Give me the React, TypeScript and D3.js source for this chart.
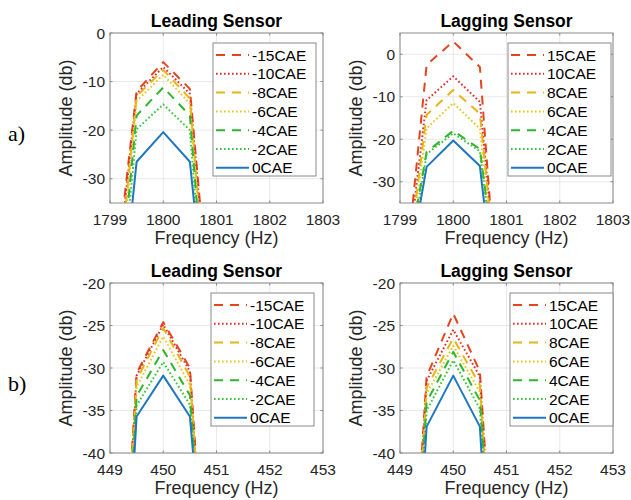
import React from 'react';
import * as d3 from 'd3';

// ---------- data ----------
const freqA = [1799, 1799.5, 1800, 1800.5, 1801];
const freqB = [449, 449.5, 450, 450.5, 451];
const xTicksA = [1799, 1800, 1801, 1802, 1803];
const xTicksB = [449, 450, 451, 452, 453];
const yTicksA = [-30, -20, -10, 0];
const yTicksB = [-40, -35, -30, -25, -20];

const leadLabels = ['-15CAE', '-10CAE', '-8CAE', '-6CAE', '-4CAE', '-2CAE', '0CAE'];
const lagLabels = ['15CAE', '10CAE', '8CAE', '6CAE', '4CAE', '2CAE', '0CAE'];

// amplitude (db) at each frequency, one row per load case (legend order)
const leadingA = [
  [-59.9, -12.0, -6.0, -11.5, -73.3],
  [-63.6, -12.5, -7.0, -12.5, -75.0],
  [-68.0, -13.0, -7.6, -13.5, -80.7],
  [-72.3, -14.0, -8.6, -14.5, -82.8],
  [-73.3, -17.0, -11.2, -17.0, -86.0],
  [-78.8, -19.8, -14.7, -20.0, -88.0],
  [-79.6, -26.5, -20.4, -26.5, -79.6],
];
const laggingA = [
  [-65.0, -2.5, 3.0, -3.0, -87.2],
  [-63.4, -10.8, -5.2, -11.2, -77.3],
  [-63.6, -14.3, -8.4, -14.0, -75.8],
  [-63.7, -17.4, -11.5, -17.5, -75.8],
  [-58.3, -23.0, -18.0, -22.3, -71.0],
  [-61.8, -23.5, -18.6, -22.8, -73.6],
  [-61.9, -26.5, -20.3, -26.3, -80.7],
];
const leadingB = [
  [-82.8, -30.6, -24.6, -30.0, -75.5],
  [-87.8, -30.9, -24.9, -30.4, -78.4],
  [-85.0, -31.4, -25.3, -31.0, -76.0],
  [-87.9, -32.2, -26.3, -32.0, -76.4],
  [-89.2, -33.3, -27.9, -33.2, -75.7],
  [-90.4, -34.4, -29.3, -34.3, -75.0],
  [-89.5, -35.7, -30.9, -35.7, -71.5],
];
const laggingB = [
  [-81.0, -31.0, -23.6, -30.4, -78.4],
  [-84.6, -31.5, -25.5, -31.0, -81.0],
  [-87.3, -32.3, -26.5, -32.0, -82.0],
  [-83.0, -33.0, -27.4, -32.8, -77.8],
  [-84.0, -34.0, -28.1, -33.8, -78.0],
  [-85.0, -35.0, -29.1, -34.8, -78.1],
  [-88.5, -36.9, -30.9, -36.9, -88.6],
];

// ---------- styles ----------
const seriesStyle = [
  { color: '#E3461E', dash: '9,7' },
  { color: '#E22A2A', dash: '1.6,2.4' },
  { color: '#E6B415', dash: '9,7' },
  { color: '#E8C61C', dash: '1.6,2.4' },
  { color: '#2DB52D', dash: '9,7' },
  { color: '#35C435', dash: '1.6,2.4' },
  { color: '#1F77C0', dash: '' },
];

const FONT = '"Liberation Sans", Arial, Helvetica, sans-serif';

type PanelProps = {
  id: string;
  x0: number; x1: number; y0: number; y1: number;
  xDomain: [number, number]; yDomain: [number, number];
  xTicks: number[]; yTicks: number[];
  freq: number[]; data: number[][]; labels: string[];
  title: string; legendRight: number;
};

function Panel(p: PanelProps) {
  const x = d3.scaleLinear().domain(p.xDomain).range([p.x0, p.x1]);
  const y = d3.scaleLinear().domain(p.yDomain).range([p.y1, p.y0]);
  const line = d3.line<number>().x((_, i) => x(p.freq[i])).y(d => y(d));
  const cx = (p.x0 + p.x1) / 2;
  const cy = (p.y0 + p.y1) / 2;
  const lw = 103, lh = 133;
  const lx = p.legendRight - lw;
  const ly = p.y0 + 10;
  const axisColor = '#8a8a8a';
  const tick = 2.5;
  return (
    <g>
      <defs>
        <clipPath id={p.id}>
          <rect x={p.x0} y={p.y0} width={p.x1 - p.x0} height={p.y1 - p.y0} />
        </clipPath>
      </defs>
      <rect x={p.x0} y={p.y0} width={p.x1 - p.x0} height={p.y1 - p.y0} fill="#fff" />
      {/* grid */}
      {p.xTicks.map(t => (
        <line key={'gx' + t} x1={x(t)} x2={x(t)} y1={p.y0} y2={p.y1} stroke="#e3e3e3" strokeWidth={0.8} />
      ))}
      {p.yTicks.map(t => (
        <line key={'gy' + t} x1={p.x0} x2={p.x1} y1={y(t)} y2={y(t)} stroke="#e3e3e3" strokeWidth={0.8} />
      ))}
      {/* series */}
      <g clipPath={`url(#${p.id})`}>
        {p.data.map((s, i) => (
          <path key={i} d={line(s) || ''} fill="none" stroke={seriesStyle[i].color}
            strokeWidth={2} strokeDasharray={seriesStyle[i].dash || undefined} strokeLinejoin="round" />
        ))}
      </g>
      {/* box */}
      <rect x={p.x0} y={p.y0} width={p.x1 - p.x0} height={p.y1 - p.y0} fill="none" stroke={axisColor} strokeWidth={1} />
      {p.xTicks.map(t => (
        <g key={'tx' + t}>
          <line x1={x(t)} x2={x(t)} y1={p.y1} y2={p.y1 - tick} stroke={axisColor} />
          <line x1={x(t)} x2={x(t)} y1={p.y0} y2={p.y0 + tick} stroke={axisColor} />
          <text x={x(t)} y={p.y1 + 21.5} textAnchor="middle" fontSize={15.5} fill="#262626" fontFamily={FONT}>{t}</text>
        </g>
      ))}
      {p.yTicks.map(t => (
        <g key={'ty' + t}>
          <line x1={p.x0} x2={p.x0 + tick} y1={y(t)} y2={y(t)} stroke={axisColor} />
          <line x1={p.x1} x2={p.x1 - tick} y1={y(t)} y2={y(t)} stroke={axisColor} />
          <text x={p.x0 - 5} y={y(t) + 5.5} textAnchor="end" fontSize={15.5} fill="#262626" fontFamily={FONT}>{t}</text>
        </g>
      ))}
      {/* labels */}
      <text x={cx} y={p.y0 - 6} textAnchor="middle" fontSize={17.5} fontWeight="bold" fill="#000" fontFamily={FONT}>{p.title}</text>
      <text x={cx} y={p.y1 + 41} textAnchor="middle" fontSize={18} fill="#262626" fontFamily={FONT}>Frequency (Hz)</text>
      <text transform={`translate(${p.x0 - 38},${cy}) rotate(-90)`} textAnchor="middle" fontSize={18} fill="#262626" fontFamily={FONT}>Amplitude (db)</text>
      {/* legend */}
      <rect x={lx} y={ly} width={lw} height={lh} fill="#fff" stroke={axisColor} strokeWidth={1} />
      {p.labels.map((lab, i) => {
        const ry = ly + 12 + i * 18.8;
        return (
          <g key={lab}>
            <line x1={lx + 3} x2={lx + 36} y1={ry} y2={ry} stroke={seriesStyle[i].color} strokeWidth={2}
              strokeDasharray={seriesStyle[i].dash || undefined} />
            <text x={lx + 39} y={ry + 5.5} fontSize={15.5} fill="#000" fontFamily={FONT}>{lab}</text>
          </g>
        );
      })}
    </g>
  );
}

export default function App() {
  return (
    <svg width={631} height={500} style={{ position: 'absolute', left: 0, top: 0, background: '#fff' }}>
      <rect width={631} height={500} fill="#fff" />
      <Panel id="c1" x0={110} x1={323} y0={33} y1={203} xDomain={[1799, 1803]} yDomain={[-35, 0]}
        xTicks={xTicksA} yTicks={yTicksA} freq={freqA} data={leadingA} labels={leadLabels}
        title="Leading Sensor" legendRight={316} />
      <Panel id="c2" x0={400} x1={613} y0={33} y1={203} xDomain={[1799, 1803]} yDomain={[-35, 5]}
        xTicks={xTicksA} yTicks={yTicksA} freq={freqA} data={laggingA} labels={lagLabels}
        title="Lagging Sensor" legendRight={611} />
      <Panel id="c3" x0={110} x1={323} y0={283} y1={453} xDomain={[449, 453]} yDomain={[-40, -20]}
        xTicks={xTicksB} yTicks={yTicksB} freq={freqB} data={leadingB} labels={leadLabels}
        title="Leading Sensor" legendRight={314} />
      <Panel id="c4" x0={400} x1={613} y0={283} y1={453} xDomain={[449, 453]} yDomain={[-40, -20]}
        xTicks={xTicksB} yTicks={yTicksB} freq={freqB} data={laggingB} labels={lagLabels}
        title="Lagging Sensor" legendRight={613} />
      <text x={8} y={141} fontSize={22} fontFamily='"Liberation Serif", "Times New Roman", serif' fill="#000">a)</text>
      <text x={8} y={391} fontSize={22} fontFamily='"Liberation Serif", "Times New Roman", serif' fill="#000">b)</text>
    </svg>
  );
}
